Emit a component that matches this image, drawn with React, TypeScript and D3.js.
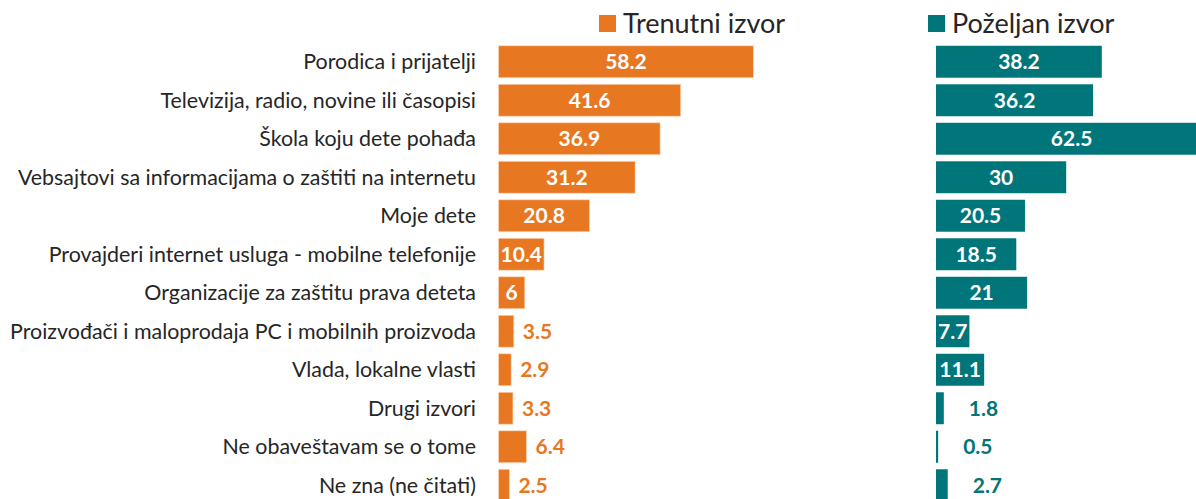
import * as d3 from 'd3'

const categories = [
  'Porodica i prijatelji',
  'Televizija, radio, novine ili časopisi',
  'Škola koju dete pohađa',
  'Vebsajtovi sa informacijama o zaštiti na internetu',
  'Moje dete',
  'Provajderi internet usluga - mobilne telefonije',
  'Organizacije za zaštitu prava deteta',
  'Proizvođači i maloprodaja PC i mobilnih proizvoda',
  'Vlada, lokalne vlasti',
  'Drugi izvori',
  'Ne obaveštavam se o tome',
  'Ne zna (ne čitati)',
]

const currentSource = [58.2, 41.6, 36.9, 31.2, 20.8, 10.4, 6, 3.5, 2.9, 3.3, 6.4, 2.5]
const preferredSource = [38.2, 36.2, 62.5, 30, 20.5, 18.5, 21, 7.7, 11.1, 1.8, 0.5, 2.7]

const seriesNames = ['Trenutni izvor', 'Poželjan izvor']

const W = 1196
const H = 499
const ORANGE = '#e87722'
const TEAL = '#00757a'
const FONT = 'Lato, "Open Sans", sans-serif'
const VALUE_SIZE = 21

// rough width of a bold number label, used to decide inside / outside
const labelWidth = (s: string) =>
  s.split('').reduce((w, ch) => w + (ch === '.' ? 0.25 : 0.5) * VALUE_SIZE, 0)

export default function App() {
  const y = d3
    .scaleBand<string>()
    .domain(categories)
    .range([42.5, 504.5])
    .paddingInner(0.17)
    .paddingOuter(0.085)

  // two panels sharing the category axis
  const panels = [
    { name: seriesNames[0], values: currentSource, color: ORANGE, x: d3.scaleLinear().domain([0, 100]).range([498.5, 936.5]), gap: 9, legendX: 599 },
    { name: seriesNames[1], values: preferredSource, color: TEAL, x: d3.scaleLinear().domain([0, 100]).range([936, 1370]), gap: 25, legendX: 928 },
  ]

  return (
    <svg
      width={W}
      height={H}
      style={{ position: 'absolute', left: 0, top: 0, background: '#fff' }}
      fontFamily={FONT}
    >
      {/* category labels */}
      {categories.map(c => (
        <text
          key={c}
          x={476}
          y={(y(c) ?? 0) + y.bandwidth() / 2}
          dy="0.35em"
          textAnchor="end"
          fontSize={21.4}
          fill="#262626"
        >
          {c}
        </text>
      ))}

      {panels.map(p => (
        <g key={p.name}>
          {/* legend */}
          <rect x={p.legendX} y={15} width={17} height={17} fill={p.color} />
          <text x={p.legendX + 24} y={23.5} dy="0.35em" fontSize={27} fill="#262626">
            {p.name}
          </text>

          {p.values.map((v, i) => {
            const c = categories[i]
            const x0 = p.x(0)
            const x1 = p.x(v)
            const top = y(c) ?? 0
            const mid = top + y.bandwidth() / 2
            const inside = x1 - x0 >= labelWidth(String(v)) + 4
            return (
              <g key={c}>
                <rect
                  x={x0}
                  y={top}
                  width={x1 - x0}
                  height={y.bandwidth()}
                  fill={p.color}
                  stroke="#fbd9c0"
                  strokeOpacity={p.color === ORANGE ? 0.8 : 0}
                  strokeWidth={0.8}
                />
                <text
                  x={inside ? (x0 + x1) / 2 : x1 + p.gap}
                  y={mid}
                  dy="0.36em"
                  textAnchor={inside ? 'middle' : 'start'}
                  fontSize={VALUE_SIZE}
                  fontWeight="bold"
                  fill={inside ? '#fff' : p.color}
                >
                  {v}
                </text>
              </g>
            )
          })}
        </g>
      ))}
    </svg>
  )
}
